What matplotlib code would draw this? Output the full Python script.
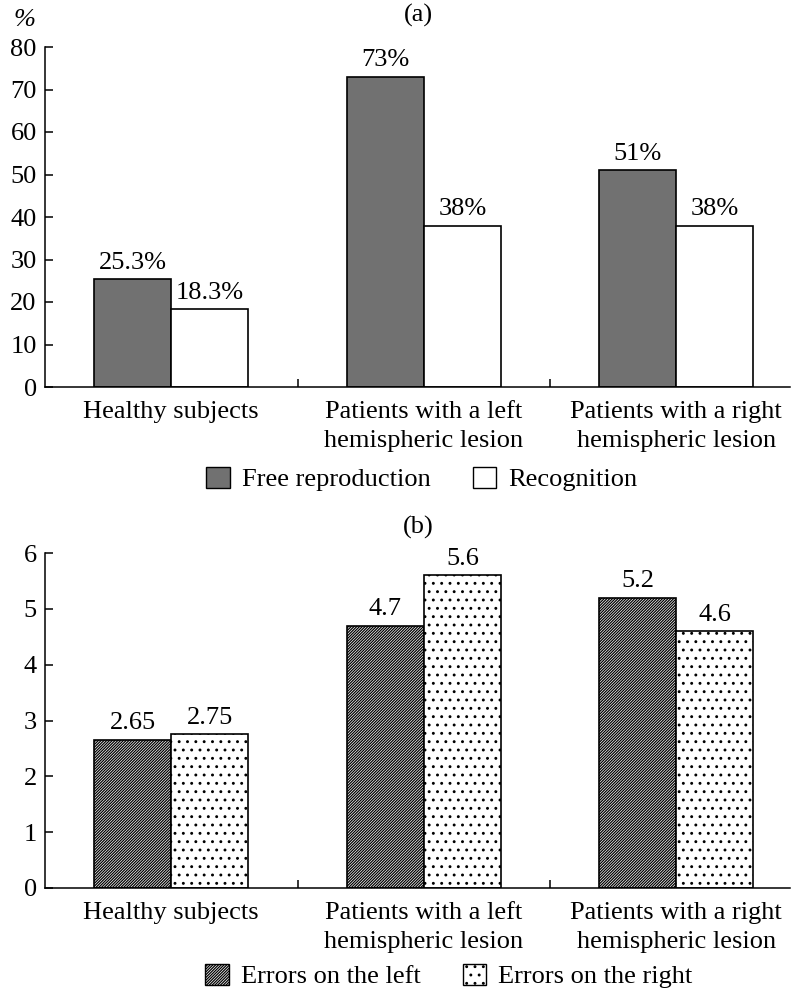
import numpy as np
import matplotlib.pyplot as plt
from matplotlib.patches import Patch

plt.rcParams['font.family'] = ['Liberation Serif', 'DejaVu Serif']
plt.rcParams['hatch.linewidth'] = 0.9

groups = ['Healthy subjects', 'Patients with a left\nhemispheric lesion',
          'Patients with a right\nhemispheric lesion']

free_repro = [25.3, 73, 51]
recognition = [18.3, 38, 38]
free_labels = ['25.3%', '73%', '51%']
recog_labels = ['18.3%', '38%', '38%']

err_left = [2.65, 4.7, 5.2]
err_right = [2.75, 5.6, 4.6]
left_labels = ['2.65', '4.7', '5.2']
right_labels = ['2.75', '5.6', '4.6']

W, H = 791, 994
fig = plt.figure(figsize=(W / 100, H / 100), dpi=100)

def px_axes(x0, x1, ytop, ybot):
    return fig.add_axes([x0 / W, (H - ybot) / H, (x1 - x0) / W, (ybot - ytop) / H])

ax1 = px_axes(45, 790, 47, 387)
ax2 = px_axes(45, 790, 553, 888)

x = np.arange(len(groups))
bw = 0.305
fs = 19
hatch_l = '/' * 12
hatch_r = '..'

def style(ax, ymax, yticks):
    ax.set_xlim(-0.5, 2.45)
    ax.set_ylim(0, ymax)
    ax.spines['top'].set_visible(False)
    ax.spines['right'].set_visible(False)
    for s in ('left', 'bottom'):
        ax.spines[s].set_linewidth(1.1)
    ax.set_yticks(yticks)
    ax.tick_params(axis='y', direction='in', length=6, width=1.1, labelsize=fs, pad=6)
    ax.set_xticks([0.5, 1.5])
    ax.set_xticklabels([])
    ax.tick_params(axis='x', which='major', direction='in', length=6, width=1.1)
    ax.set_xticks(x, minor=True)
    ax.set_xticklabels(groups, minor=True, fontsize=fs, linespacing=1.42)
    ax.tick_params(axis='x', which='minor', length=0, pad=10)

b1 = ax1.bar(x - bw / 2, free_repro, bw, color='#717171', edgecolor='black', linewidth=1.2)
b2 = ax1.bar(x + bw / 2, recognition, bw, color='white', edgecolor='black', linewidth=1.2)
ax1.bar_label(b1, labels=free_labels, padding=4, fontsize=fs)
ax1.bar_label(b2, labels=recog_labels, padding=4, fontsize=fs)
style(ax1, 80, range(0, 81, 10))

b3 = ax2.bar(x - bw / 2, err_left, bw, color='white', edgecolor='black', linewidth=1.2, hatch=hatch_l)
b4 = ax2.bar(x + bw / 2, err_right, bw, color='white', edgecolor='black', linewidth=1.2, hatch=hatch_r)
ax2.bar_label(b3, labels=left_labels, padding=4, fontsize=fs)
ax2.bar_label(b4, labels=right_labels, padding=4, fontsize=fs)
style(ax2, 6, range(0, 7))

fig.text(25 / W, 1 - 20 / H, '%', fontsize=fs, ha='center', va='center', style='italic')
fig.text(418 / W, 1 - 15 / H, '(a)', fontsize=fs, ha='center', va='center')
fig.text(418 / W, 1 - 527 / H, '(b)', fontsize=fs, ha='center', va='center')

leg_kw = dict(loc='center left', ncol=2, frameon=False, fontsize=fs, borderpad=0,
              borderaxespad=0, handlelength=0.9, handleheight=0.85,
              handletextpad=0.45, columnspacing=1.6)
fig.legend(handles=[Patch(facecolor='#717171', edgecolor='black', linewidth=1.0),
                    Patch(facecolor='white', edgecolor='black', linewidth=1.0)],
           labels=['Free reproduction', 'Recognition'],
           bbox_to_anchor=(206 / W, 1 - 479 / H), **leg_kw)
fig.legend(handles=[Patch(facecolor='white', edgecolor='black', linewidth=1.0, hatch=hatch_l),
                    Patch(facecolor='white', edgecolor='black', linewidth=1.0, hatch=hatch_r)],
           labels=['Errors on the left', 'Errors on the right'],
           bbox_to_anchor=(205 / W, 1 - 976 / H), **leg_kw)

fig.savefig('out.png', dpi=100)
